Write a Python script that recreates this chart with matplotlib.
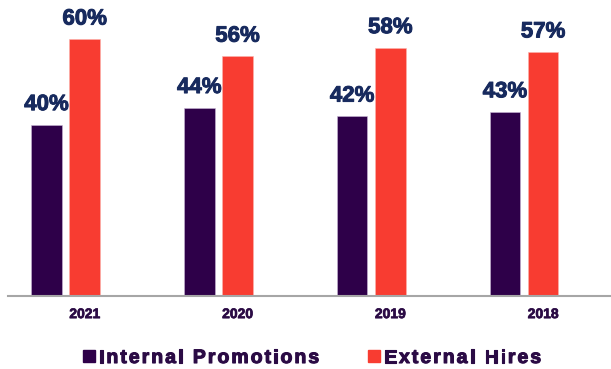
import matplotlib
matplotlib.use('Agg')
import matplotlib.pyplot as plt
import matplotlib.patheffects as pe
import numpy as np
from matplotlib import font_manager
from matplotlib.font_manager import FontProperties
from matplotlib.ft2font import FT2Font
from matplotlib.patches import Rectangle

years = ['2021', '2020', '2019', '2018']
internal = [40, 44, 42, 43]
external = [60, 56, 58, 57]
series_names = ['Internal Promotions', 'External Hires']

purple = '#2e0049'
red = '#f83c31'
navy = '#172a5e'
text_purple = '#2b0b45'

plt.rcParams['font.family'] = ['Liberation Sans', 'DejaVu Sans']

W, H = 611, 369
fig = plt.figure(figsize=(W / 100, H / 100), dpi=100)
ax = fig.add_axes([8 / W, 73 / H, 603 / W, 296 / H])


def heavy(color, w=0.7):
    return [pe.withStroke(linewidth=w, foreground=color)]


x = np.arange(len(years))
bw = 0.2
off = 0.25
b1 = ax.bar(x, internal, bw, color=purple, edgecolor='#c9b8d6', linewidth=0.4)
b2 = ax.bar(x + off, external, bw, color=red, edgecolor='#fbb3ad', linewidth=0.4)

for bars, vals in ((b1, internal), (b2, external)):
    for b, v in zip(bars, vals):
        ax.text(b.get_x() + b.get_width() / 2, v + 3.45, f'{v}%',
                ha='center', va='baseline', fontsize=16, fontweight='bold',
                color=navy, path_effects=heavy(navy))

ax.set_xlim(-0.252, 3.694)
ax.set_ylim(0, 69.2)
ax.set_xticks(x + off)
ax.set_xticklabels(years, fontsize=10, fontweight='bold', color=text_purple)
for lab in ax.get_xticklabels():
    lab.set_path_effects(heavy(text_purple, 0.5))
ax.tick_params(axis='x', length=0, pad=8)
ax.set_yticks([])
for side in ('top', 'right', 'left'):
    ax.spines[side].set_visible(False)
ax.spines['bottom'].set_color('#a6a6a6')
ax.spines['bottom'].set_linewidth(1.5)

# legend with letter-spaced labels, laid out glyph by glyph
fsize = 14
tracking = 2.0
fp = FontProperties(family='Liberation Sans', weight='bold')
ft = FT2Font(font_manager.findfont(fp))
ft.set_size(fsize, 100)


def spaced_text(x0, y0, s, color):
    xp = x0
    for ch in s:
        fig.text(xp / W, 1 - y0 / H, ch, fontsize=fsize, fontweight='bold',
                 color=color, ha='left', va='baseline',
                 path_effects=heavy(color, 0.8))
        xp += ft.load_char(ord(ch)).linearHoriAdvance / 65536 + tracking
    return xp


legend_items = [(83, purple, series_names[0]), (368, red, series_names[1])]
for lx, col, name in legend_items:
    fig.patches.append(Rectangle((lx / W, 1 - 362 / H), 12 / W, 12 / H,
                                 transform=fig.transFigure, color=col))
    spaced_text(lx + 16, 363, name, text_purple)

fig.savefig('out.png', dpi=100)
